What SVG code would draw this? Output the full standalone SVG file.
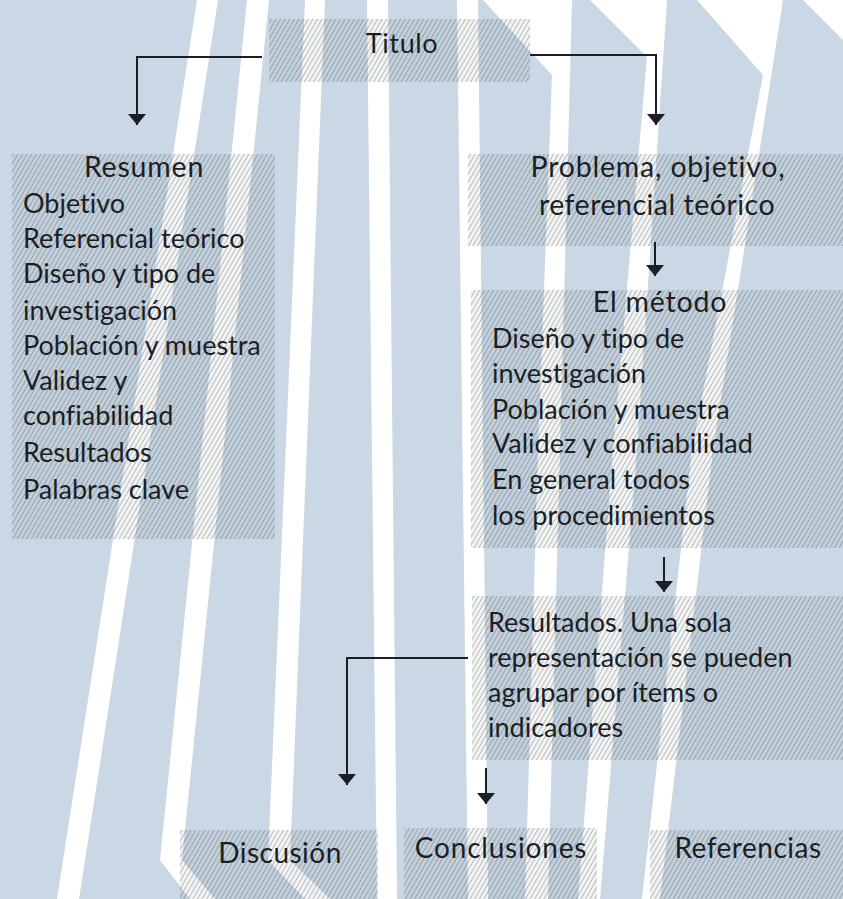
<svg xmlns="http://www.w3.org/2000/svg" width="843" height="899" viewBox="0 0 843 899">
<defs>
<pattern id="hatch" patternUnits="userSpaceOnUse" width="4" height="4" patternTransform="rotate(30)">
<rect width="4" height="4" fill="rgba(110,118,126,0.09)"/>
<line x1="0.5" y1="0" x2="0.5" y2="4" stroke="rgba(60,66,72,0.40)" stroke-width="0.8"/>
</pattern>
<marker id="arr" markerUnits="userSpaceOnUse" markerWidth="11" markerHeight="18" viewBox="0 0 11 18" refX="11" refY="9" orient="auto">
<path d="M0,0 L11,9 L0,18 z" fill="#1b1f25"/>
</marker>
<style>
.box{fill:url(#hatch);}
.t{font-family:Lato,"Open Sans","Liberation Sans",sans-serif;fill:#1b1f25;font-size:27px;font-variant-ligatures:none;}
.h{font-size:28.5px;letter-spacing:0.8px;}
.c{text-anchor:middle;}
.ln{fill:none;stroke:#1b1f25;stroke-width:2;}
.w{fill:#ffffff;}
</style>
</defs>
<g id="background">
<rect width="843" height="899" fill="#cad8e5"/>
<polygon class="w" points="197,0 218,0 79,899 57,899"/>
<polygon class="w" points="247,0 269,0 182,860 215,899 190,899 160,860"/>
<polygon class="w" points="305,0 325,0 290,860 330,899 305,899 268,860"/>
<polygon class="w" points="367,0 388,0 397,899 377,899"/>
<polygon class="w" points="457,0 478,0 488,899 468,899"/>
<polygon class="w" points="483,0 572,0 560,450 548,899 525,899 538,450 552,75"/>
<polygon class="w" points="590,0 667,0 637,450 600,899 578,899 613,450 647,57"/>
<polygon class="w" points="697,0 783,0 713,450 660,899 642,899 692,450 763,75"/>
<polygon class="w" points="803,0 843,0 843,40"/>
</g>
<g id="titulo">
<rect class="box" x="269" y="19" width="261" height="63"/>
<text class="t c" x="402" y="53" style="letter-spacing:0.6px">Titulo</text>
</g>
<g id="resumen">
<rect class="box" x="12" y="154" width="263" height="385"/>
<text class="t h c" x="144" y="177">Resumen</text>
<text class="t" x="23" y="213">Objetivo</text>
<text class="t" x="23" y="248">Referencial teórico</text>
<text class="t" x="23" y="283">Diseño y tipo de</text>
<text class="t" x="23" y="320">investigación</text>
<text class="t" x="23" y="355">Población y muestra</text>
<text class="t" x="23" y="390">Validez y</text>
<text class="t" x="23" y="425">confiabilidad</text>
<text class="t" x="23" y="462">Resultados</text>
<text class="t" x="23" y="499">Palabras clave</text>
</g>
<g id="problema">
<rect class="box" x="468" y="154" width="375" height="92"/>
<text class="t h c" x="658" y="177">Problema, objetivo,</text>
<text class="t h c" x="657" y="215" style="letter-spacing:0.5px">referencial teórico</text>
</g>
<g id="metodo">
<rect class="box" x="471" y="290" width="372" height="258"/>
<text class="t h c" x="660" y="312">El método</text>
<text class="t" x="492" y="348">Diseño y tipo de</text>
<text class="t" x="492" y="383">investigación</text>
<text class="t" x="492" y="419">Población y muestra</text>
<text class="t" x="492" y="453">Validez y confiabilidad</text>
<text class="t" x="492" y="489">En general todos</text>
<text class="t" x="492" y="525">los procedimientos</text>
</g>
<g id="resultados">
<rect class="box" x="472" y="596" width="371" height="164"/>
<text class="t" x="488" y="632">Resultados. Una sola</text>
<text class="t" x="488" y="667">representación se pueden</text>
<text class="t" x="488" y="702">agrupar por ítems o</text>
<text class="t" x="488" y="737">indicadores</text>
</g>
<g id="discusion">
<rect class="box" x="180" y="830" width="198" height="69"/>
<text class="t c" x="280" y="863" style="font-size:28px;letter-spacing:0.5px">Discusión</text>
</g>
<g id="conclusiones">
<rect class="box" x="404" y="828" width="193" height="71"/>
<text class="t c" x="501" y="858" style="font-size:28px;letter-spacing:0.8px">Conclusiones</text>
</g>
<g id="referencias">
<rect class="box" x="650" y="830" width="193" height="69"/>
<text class="t c" x="748" y="858" style="font-size:28px;letter-spacing:0.5px">Referencias</text>
</g>
<g id="connectors">
<path class="ln" d="M262,57 H137 V125" marker-end="url(#arr)"/>
<path class="ln" d="M530,55 H656 V125" marker-end="url(#arr)"/>
<path class="ln" d="M655,242 V276" marker-end="url(#arr)"/>
<path class="ln" d="M664,557 V592" marker-end="url(#arr)"/>
<path class="ln" d="M468,658 H347 V785" marker-end="url(#arr)"/>
<path class="ln" d="M486,768 V804" marker-end="url(#arr)"/>
</g>
</svg>
